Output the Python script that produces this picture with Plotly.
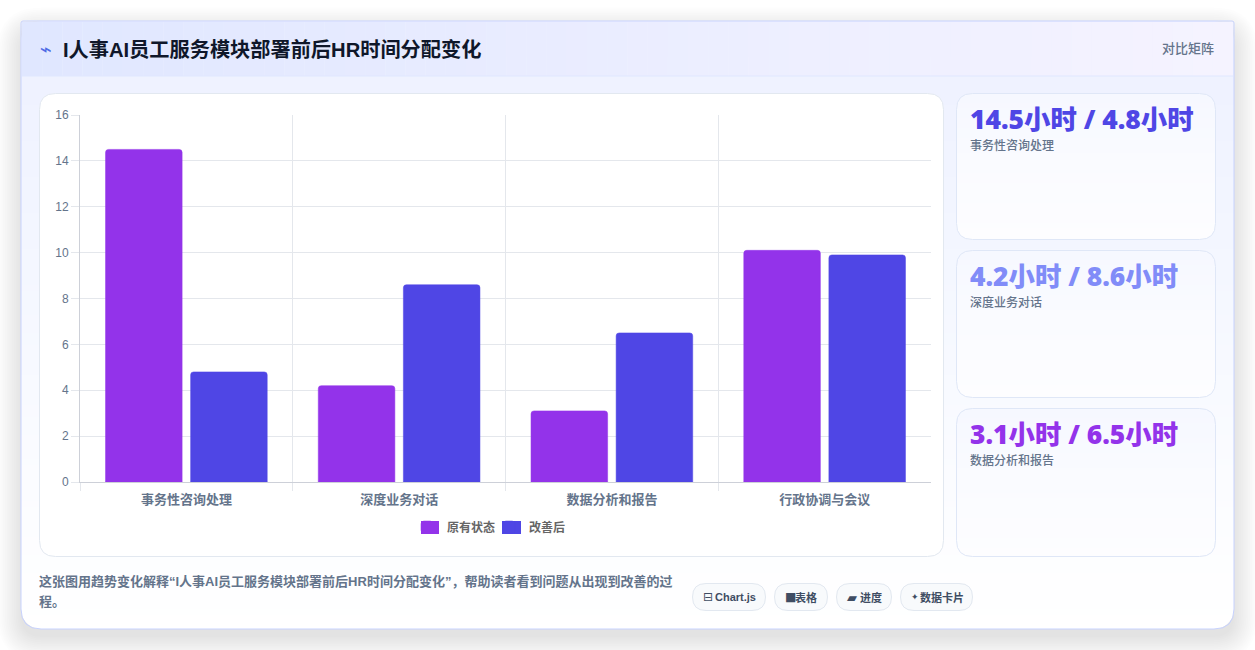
import math
import plotly.graph_objects as go

# Chart data (hours)
categories = ["事务性咨询处理", "深度业务对话", "数据分析和报告", "行政协调与会议"]
before_hours = [14.5, 4.2, 3.1, 10.1]
after_hours = [4.8, 8.6, 6.5, 9.9]
series_names = ["原有状态", "改善后"]
series_colors = ["#9333ea", "#4f46e5"]
series_edges = ["rgba(147,51,234,0.5)", "rgba(79,70,229,0.5)"]
y_ticks = [0, 2, 4, 6, 8, 10, 12, 14, 16]

# Page text
title_text = "I人事AI员工服务模块部署前后HR时间分配变化"
badge_text = "对比矩阵"
kpi_values = ["14.5小时 / 4.8小时", "4.2小时 / 8.6小时", "3.1小时 / 6.5小时"]
kpi_captions = ["事务性咨询处理", "深度业务对话", "数据分析和报告"]
kpi_colors = ["#4f46e5", "#818cf8", "#9333ea"]
footer_lines = [
    "这张图用趋势变化解释“I人事AI员工服务模块部署前后HR时间分配变化”，帮助读者看到问题从出现到改善的过",
    "程。",
]
chip_icons = ["⊟", "■", "▰", "✦"]
chip_labels = ["Chart.js", "表格", "进度", "数据卡片"]

W, H = 1255, 650
CJK = "'Liberation Sans', 'Noto Sans CJK SC', sans-serif"
NUM = "'Noto Sans', 'Noto Sans CJK SC', sans-serif"
GRID = "#e4e7ec"
AXIS = "#cdd0d8"


def px(x):
    return x / W


def py(y):
    return 1 - y / H


def mix(c0, c1, t):
    a = [int(c0[i:i + 2], 16) for i in (1, 3, 5)]
    b = [int(c1[i:i + 2], 16) for i in (1, 3, 5)]
    return "#%02x%02x%02x" % tuple(round(u + (v - u) * t) for u, v in zip(a, b))


def rounded_path(x0, y0, x1, y1, r, r_top=None):
    rt = r if r_top is None else r_top
    return (
        f"M{px(x0 + rt)},{py(y0)} L{px(x1 - rt)},{py(y0)} "
        f"Q{px(x1)},{py(y0)} {px(x1)},{py(y0 + rt)} "
        f"L{px(x1)},{py(y1 - r)} Q{px(x1)},{py(y1)} {px(x1 - r)},{py(y1)} "
        f"L{px(x0 + r)},{py(y1)} Q{px(x0)},{py(y1)} {px(x0)},{py(y1 - r)} "
        f"L{px(x0)},{py(y0 + rt)} Q{px(x0)},{py(y0)} {px(x0 + rt)},{py(y0)} Z"
    )


def inset_at(y, y0, y1, r):
    # horizontal inset of a rounded box edge at height y
    if y < y0 + r:
        d = y0 + r - y
    elif y > y1 - r:
        d = y - (y1 - r)
    else:
        return 0.0
    return r - math.sqrt(max(r * r - d * d, 0))


shapes = []


def add_path(path, fill="rgba(0,0,0,0)", line=None, width=1):
    shapes.append(dict(
        type="path", path=path, xref="paper", yref="paper", layer="below",
        fillcolor=fill,
        line=dict(color=line or "rgba(0,0,0,0)", width=width if line else 0),
    ))


def add_vertical_gradient(x0, y0, x1, y1, r, stops, step=4):
    # stack of thin slices following the rounded outline of the box
    y = y0
    while y < y1:
        yb = min(y + step, y1)
        t = (y - y0) / max(y1 - y0, 1)
        for k in range(len(stops) - 1):
            if stops[k][0] <= t <= stops[k + 1][0]:
                f = (t - stops[k][0]) / (stops[k + 1][0] - stops[k][0])
                col = mix(stops[k][1], stops[k + 1][1], f)
                break
        samples = [y + (yb - y) * i / 4 for i in range(5)]
        right = [(x1 - inset_at(s, y0, y1, r), s) for s in samples]
        left = [(x0 + inset_at(s, y0, y1, r), s) for s in reversed(samples)]
        pts = right + left
        d = "M" + " L".join(f"{px(a)},{py(b)}" for a, b in pts) + " Z"
        add_path(d, fill=col)
        y = yb


# Soft drop shadow beneath the card
for i in range(14):
    e = 1.8 * i
    add_path(rounded_path(21 - e, 31 - e, 1234 + e, 637 + e, 20 + e), fill="rgba(30,41,59,0.0065)")

# Main card body
add_vertical_gradient(21, 21, 1234, 629, 20,
                      [(0, "#eef1ff"), (0.1, "#eff2ff"), (0.4, "#f4f7ff"),
                       (0.75, "#fbfcff"), (1, "#ffffff")], step=6)

# Header band, left-to-right tint
n_strips = 60
for i in range(n_strips):
    xa = 22 + (1233 - 22) * i / n_strips
    xb = 22 + (1233 - 22) * (i + 1) / n_strips
    c = mix("#e0e7ff", "#f5f3ff", i / (n_strips - 1))
    shapes.append(dict(type="rect", xref="paper", yref="paper", layer="below",
                       x0=px(xa), x1=px(xb), y0=py(22), y1=py(76),
                       fillcolor=c, line=dict(width=0)))
shapes.append(dict(type="line", xref="paper", yref="paper", layer="below",
                   x0=px(22), x1=px(1233), y0=py(76), y1=py(76),
                   line=dict(color="#e0e7ff", width=1)))

# Card outline
add_path(rounded_path(21, 21, 1234, 629, 20, r_top=2), line="#c7d2fe")

# Chart panel
add_path(rounded_path(39.5, 93.5, 943.5, 556.5, 16), fill="#ffffff", line="#e2e8f0")

# Wider legend keys sit behind the built-in swatches
legend_keys = [(421, 439), (502, 521)]
for (x0, x1), color in zip(legend_keys, series_colors):
    shapes.append(dict(type="rect", xref="paper", yref="paper", layer="below",
                       x0=px(x0), x1=px(x1), y0=py(521), y1=py(534),
                       fillcolor=color, line=dict(width=0)))

# KPI cards
kpi_boxes = [(93, 240), (250, 398), (408, 557)]
for top, bottom in kpi_boxes:
    add_vertical_gradient(956, top, 1216, bottom, 16,
                          [(0, "#f6f8ff"), (0.45, "#fafbff"), (1, "#fdfdff")], step=5)
    add_path(rounded_path(956.5, top + 0.5, 1215.5, bottom - 0.5, 16), line="#dfe7f7")

# Tool chips
chip_boxes = [(692, 766), (774, 828), (836, 892), (900, 973)]
for x0, x1 in chip_boxes:
    add_path(rounded_path(x0 + 0.5, 583.5, x1 - 0.5, 610.5, 13.5), fill="#f8fafc", line="#e2e8f0")

# The category axis ends without a closing tick
shapes.append(dict(type="line", xref="paper", yref="paper", layer="above",
                   x0=px(931.5), x1=px(931.5), y0=py(483), y1=py(491),
                   line=dict(color="#ffffff", width=2)))

annotations = []


def add_text(x, y, text, size, color, weight=400, family=CJK, anchor="left"):
    annotations.append(dict(
        x=px(x), y=py(y), xref="paper", yref="paper", text=text, showarrow=False,
        xanchor=anchor, yanchor="middle", align=anchor, borderpad=0,
        font=dict(size=size, color=color, family=family, weight=weight),
    ))


add_text(39, 49, "⌁", 20, "#4f6be5", family="'DejaVu Sans'")
add_text(62, 49, title_text, 20.2, "#0f172a", 700)
add_text(1215, 48, badge_text, 13, "#64748b", 500, anchor="right")

for (top, _), value, caption, color in zip(kpi_boxes, kpi_values, kpi_captions, kpi_colors):
    add_text(968.5, top + 26, value, 26.4, color, 900, family=NUM)
    add_text(968.5, top + 52.5, caption, 12, "#64748b", 500)

add_text(37.5, 581, footer_lines[0], 13, "#64748b", 600)
add_text(37.5, 601.5, footer_lines[1], 13, "#64748b", 600)

chip_icon_x = [702, 784, 846, 910]
chip_icon_size = [12, 12, 13, 9]
chip_text_x = [714, 794, 859, 919]
for x, size, icon in zip(chip_icon_x, chip_icon_size, chip_icons):
    add_text(x, 597, icon, size, "#3f4d63", family="'DejaVu Sans'")
for x, label in zip(chip_text_x, chip_labels):
    add_text(x, 597, label, 11, "#3f4d63", 700)

fig = go.Figure()
for name, values, color, edge in zip(series_names, [before_hours, after_hours], series_colors, series_edges):
    fig.add_trace(go.Bar(name=name, x=categories, y=values,
                         marker=dict(color=color, line=dict(color=edge, width=1))))

fig.update_layout(
    width=W, height=H, autosize=False,
    margin=dict(l=0, r=0, t=0, b=0),
    paper_bgcolor="#ffffff", plot_bgcolor="rgba(0,0,0,0)",
    barmode="group", bargap=0.2, bargroupgap=0.1, barcornerradius=3,
    shapes=shapes, annotations=annotations,
    font=dict(family=CJK),
    legend=dict(
        orientation="h", x=px(407), y=py(527), xanchor="left", yanchor="middle",
        bgcolor="rgba(0,0,0,0)", entrywidth=37, entrywidthmode="pixels",
        font=dict(size=12, color="#666666", family=CJK, weight=600),
    ),
    xaxis=dict(
        domain=[px(80), px(931)], tickson="boundaries", showgrid=True, automargin=False,
        gridcolor=GRID, gridwidth=1, showline=True, linecolor=AXIS,
        ticks="outside", ticklen=8, tickcolor=GRID, ticklabelstandoff=5,
        tickfont=dict(size=13, color="#64748b", family=CJK, weight=600),
    ),
    yaxis=dict(
        domain=[py(482), py(115)], range=[0, 16], tickvals=y_ticks, automargin=False,
        showgrid=True, gridcolor=GRID, gridwidth=1, zeroline=False,
        showline=True, linecolor=AXIS,
        ticks="outside", ticklen=8, tickcolor=GRID,
        tickfont=dict(size=12, color="#64748b", family="'Liberation Sans'"),
    ),
)

fig.write_html("out.html", config={"displayModeBar": False})
